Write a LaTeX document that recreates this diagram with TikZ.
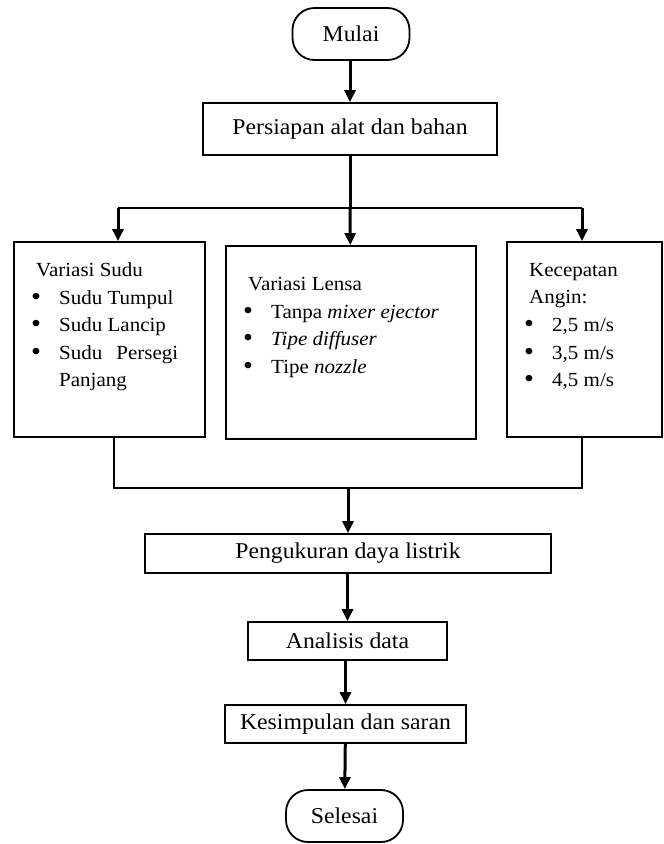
\documentclass[tikz,border=0pt]{standalone}
\usepackage{fontspec}
\setmainfont{Liberation Serif}[FakeStretch=1.05]
\usetikzlibrary{arrows.meta}
\newcommand{\blt}{\makebox[28pt][l]{\raisebox{-1pt}{\scalebox{1.35}{\textbullet}}}}

\begin{document}
\begin{tikzpicture}[x=1pt, y=-1pt,
        box/.style={draw, line width=1.8pt, inner sep=0pt, font=\fontsize{22.6}{27}\selectfont},
        term/.style={box, rounded corners=22pt},
        line/.style={line width=2.3pt},
        arrow/.style={line width=3pt, -{Triangle[width=11pt, length=12pt]}},
        list/.style={anchor=north west, align=left, inner sep=0pt, font=\fontsize{20}{27.6}\selectfont}]
        \useasboundingbox (0, 0) rectangle (664, 844);

        \node [term, minimum width=117pt, minimum height=52pt] (mulai) at (351, 34) {Mulai};
        \node [box, minimum width=294pt, minimum height=52pt] (persiapan) at (350, 129) {Persiapan alat dan bahan};

        \node [box, minimum width=191pt, minimum height=195pt] (sudu) at (109.5, 339.5) {};
        \node [box, minimum width=250pt, minimum height=193pt] (lensa) at (351, 342.5) {};
        \node [box, minimum width=155pt, minimum height=195pt] (angin) at (584.5, 339.5) {};

        \node [list] (sudutext) at (31, 262.5) {\hspace{5pt}Variasi Sudu\\ \blt Sudu Tumpul\\ \blt Sudu Lancip\\ \blt Sudu\hspace{14pt}Persegi\\ \hspace{28pt}Panjang};
        \node [list] (lensatext) at (243, 277) {\hspace{5pt}Variasi Lensa\\ \blt Tanpa \textit{mixer ejector}\\ \blt \textit{Tipe diffuser}\\ \blt Tipe \textit{nozzle}};
        \node [list] (angintext) at (524, 263) {\hspace{5pt}Kecepatan\\ \hspace{5pt}Angin:\\ \blt 2,5 m/s\\ \blt 3,5 m/s\\ \blt 4,5 m/s};

        \node [box, minimum width=406pt, minimum height=39pt] (ukur) at (348, 553.5) {Pengukuran daya listrik};
        \node [box, minimum width=199pt, minimum height=38pt] (analisis) at (347.5, 641) {Analisis data};
        \node [box, minimum width=241pt, minimum height=38pt] (kesimpulan) at (345.5, 724) {Kesimpulan dan saran};
        \node [term, minimum width=117pt, minimum height=52pt] (selesai) at (344.5, 816) {Selesai};

        \coordinate (split) at (350, 208);
        \coordinate (splitL) at (118, 208);
        \coordinate (splitR) at (582, 208);
        \coordinate (joinL) at (114, 488);
        \coordinate (joinR) at (582, 488);
        \coordinate (join) at (348, 488);

        \draw [arrow] (mulai.south -| persiapan) -- (persiapan);
        \draw [arrow, -] (persiapan) -- (split);
        \draw [line] (splitL) -- (splitR);
        \draw [arrow] (splitL) -- (splitL |- sudu.north);
        \draw [arrow] (split) -- (lensa);
        \draw [arrow] (splitR) -- (splitR |- angin.north);

        \draw [line] (sudu.south -| joinL) -- (joinL) -- (joinR) -- (angin.south -| joinR);
        \draw [arrow] (join) -- (ukur);
        \draw [arrow] (ukur.south -| analisis) -- (analisis);
        \draw [arrow] (analisis.south -| kesimpulan) -- (kesimpulan);
        \draw [arrow] (kesimpulan) -- (selesai);
     \end{tikzpicture}
\end{document}
